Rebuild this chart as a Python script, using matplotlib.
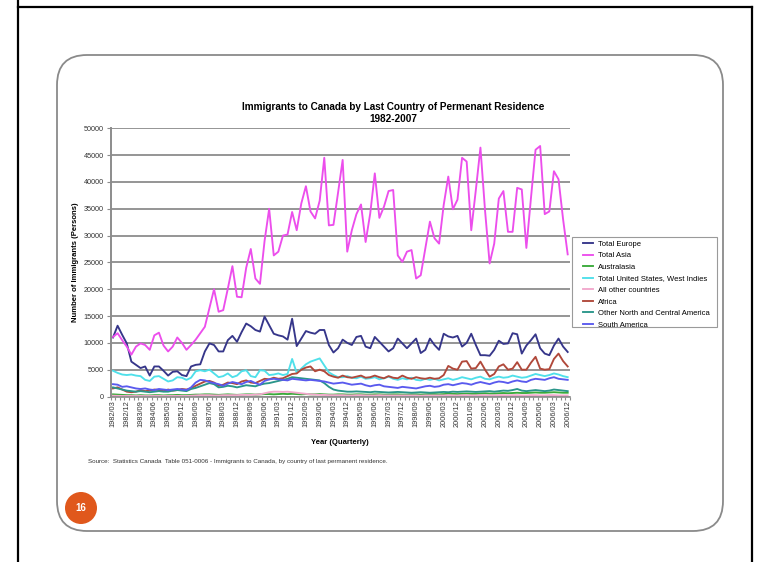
import matplotlib
matplotlib.use('Agg')
import matplotlib.pyplot as plt
from matplotlib.patches import FancyBboxPatch, Circle, Rectangle
import numpy as np

plt.rcParams['font.family'] = ['Liberation Sans', 'DejaVu Sans']

# quarterly categories 1982/03 .. 2006/12
quarters = [f"{y}/{m:02d}" for y in range(1982, 2007) for m in (3, 6, 9, 12)]

europe = [11000, 13200, 11500, 9900, 6500, 5900, 5300, 5600, 3900, 5600,
          5600, 4800, 3900, 4600, 4700, 4000, 3800, 5600, 5900, 6000,
          8400, 9900, 9600, 8400, 8400, 10500, 11300, 10200, 12000, 13600,
          13100, 12400, 12100, 14900, 13300, 11700, 11400, 11200, 10600, 14500,
          9400, 10800, 12200, 11900, 11700, 12400, 12400, 9600, 8200, 9000,
          10600, 10000, 9600, 11100, 11300, 9300, 9000, 11100, 10200, 9300,
          8400, 9000, 10800, 9900, 9000, 9900, 10800, 8100, 8700, 10800,
          9600, 8700, 11700, 11200, 11000, 11300, 9300, 10000, 11700, 9600,
          7700, 7700, 7600, 8700, 10400, 9800, 9900, 11800, 11600, 8000,
          9500, 10500, 11600, 9000, 8000, 7700, 9500, 10800, 9300, 8300]

asia = [11100, 11800, 10500, 9300, 7800, 9300, 9900, 9600, 8700, 11400,
        11900, 9500, 8400, 9300, 11000, 10000, 8700, 9600, 10600, 11800,
        13000, 16500, 20000, 15800, 16100, 20100, 24300, 18600, 18500, 24000,
        27500, 22000, 21000, 29000, 35000, 26300, 27000, 30000, 30200, 34400,
        31000, 36000, 39200, 34500, 33200, 36500, 44500, 31900, 32000, 38000,
        44100, 27000, 31000, 34000, 35800, 28800, 34100, 41600, 33300, 35400,
        38300, 38500, 26300, 25100, 27000, 27300, 22000, 22600, 27600, 32600,
        29500, 28500, 35700, 41000, 34900, 36700, 44500, 43800, 31000, 38500,
        46400, 34700, 24800, 28500, 36900, 38300, 30700, 30700, 38900, 38600,
        27700, 37000, 46000, 46700, 34000, 34500, 42000, 40500, 33000, 26500]

australasia = [400, 350, 300, 250, 250, 200, 250, 200, 200, 250,
               250, 200, 250, 250, 300, 250, 250, 300, 350, 350,
               400, 400, 350, 300, 350, 400, 350, 300, 350, 400,
               400, 350, 400, 450, 450, 400, 450, 500, 450, 500,
               450, 400, 450, 400, 400, 450, 400, 350, 350, 400,
               400, 350, 350, 400, 400, 350, 350, 400, 400, 350,
               350, 400, 400, 350, 350, 400, 400, 350, 400, 450,
               450, 400, 450, 500, 500, 450, 500, 550, 500, 500,
               550, 600, 550, 550, 600, 650, 600, 650, 700, 650,
               650, 700, 750, 700, 700, 750, 800, 750, 700, 700]

usa_wi = [4800, 4400, 4100, 4000, 4100, 3900, 3800, 3100, 2900, 3700,
          3800, 3300, 2800, 3000, 3600, 3500, 3100, 3500, 4700, 4900,
          4700, 5000, 4300, 3600, 3800, 4300, 3600, 3900, 4700, 4900,
          3800, 3600, 4900, 4800, 4000, 4100, 4300, 4000, 4200, 7000,
          4400, 5200, 6000, 6500, 6800, 7100, 5800, 4500, 4000, 3600,
          3600, 3800, 3500, 3400, 3700, 3300, 3400, 3600, 3200, 3400,
          3700, 3300, 3100, 3400, 3200, 3500, 3100, 3000, 3300, 3100,
          3300, 3000, 3200, 3400, 3100, 3300, 3600, 3400, 3200, 3500,
          3700, 3300, 3200, 3500, 3700, 3500, 3600, 3900, 3700, 3500,
          3600, 3900, 4200, 4000, 3800, 4000, 4300, 4100, 3800, 3600]

all_other = [150, 120, 100, 100, 100, 90, 100, 90, 90, 100,
             100, 90, 100, 100, 110, 100, 100, 150, 200, 250,
             250, 250, 200, 200, 250, 250, 250, 250, 300, 300,
             300, 350, 400, 600, 800, 900, 900, 850, 900, 800,
             700, 600, 500, 400, 350, 300, 300, 250, 250, 250,
             250, 200, 200, 250, 250, 200, 200, 200, 250, 200,
             200, 200, 200, 200, 200, 200, 200, 150, 200, 200,
             200, 200, 200, 250, 200, 200, 250, 250, 200, 200,
             250, 250, 200, 200, 250, 250, 200, 250, 250, 200,
             200, 250, 250, 200, 200, 250, 250, 200, 200, 200]

africa = [1500, 1700, 1300, 900, 800, 900, 1200, 1000, 1100, 1300,
          1200, 1000, 1300, 1100, 1200, 1400, 1300, 1500, 2000, 2400,
          2800, 2900, 2600, 2000, 2200, 2600, 2500, 2300, 2800, 3000,
          2600, 2500, 2900, 3300, 3200, 3500, 3300, 3400, 3800, 4200,
          4300, 5000, 5400, 5600, 4700, 5000, 4700, 4000, 3700, 3500,
          3900, 3600, 3500, 3700, 3900, 3500, 3600, 3900, 3600, 3400,
          3800, 3500, 3400, 3900, 3500, 3300, 3600, 3400, 3300, 3500,
          3300, 3400, 4000, 5700, 5200, 5000, 6500, 6600, 5200, 5300,
          6500, 5000, 3700, 4200, 5600, 6000, 5000, 5200, 6400, 5000,
          5000, 6300, 7400, 5200, 5000, 5100, 7000, 8000, 6600, 5600]

other_nca = [1700, 1500, 1300, 1100, 1000, 900, 1000, 900, 800, 900,
             1000, 900, 900, 1100, 1200, 1100, 1000, 1400, 1600, 1900,
             2200, 2500, 2300, 1700, 1800, 2000, 1900, 1700, 1900, 2100,
             2000, 1900, 2200, 2400, 2500, 2700, 2900, 3100, 3300, 3600,
             3500, 3400, 3300, 3200, 3100, 3000, 2500, 1800, 1300, 1100,
             1000, 900, 900, 950, 900, 850, 800, 900, 850, 800,
             750, 800, 850, 800, 750, 700, 750, 800, 750, 700,
             750, 800, 850, 800, 900, 850, 900, 950, 900, 850,
             900, 950, 1000, 900, 1000, 1100, 1050, 1200, 1400, 1100,
             1000, 1100, 1200, 1100, 1000, 1100, 1300, 1200, 1100, 1000]

south_america = [2300, 2200, 1800, 1900, 1700, 1500, 1400, 1500, 1300, 1200,
                 1400, 1300, 1200, 1300, 1400, 1300, 1200, 1700, 2600, 3100,
                 3000, 2700, 2500, 2300, 2000, 2400, 2700, 2500, 2300, 2700,
                 2900, 2500, 2200, 2900, 3200, 3300, 3200, 3100, 3000, 3300,
                 3200, 3100, 3000, 3100, 3000, 2900, 2800, 2600, 2400, 2500,
                 2600, 2400, 2200, 2300, 2400, 2100, 1900, 2100, 2200, 1900,
                 1800, 1700, 1600, 1800, 1700, 1600, 1500, 1700, 1900, 2000,
                 1800, 1900, 2200, 2300, 2100, 2300, 2500, 2400, 2200, 2500,
                 2700, 2500, 2300, 2600, 2800, 2700, 2500, 2800, 3000, 2800,
                 2700, 3100, 3300, 3200, 3100, 3400, 3600, 3300, 3200, 3100]

series = [
    ('Total Europe', europe, '#36368a'),
    ('Total Asia', asia, '#ec4eec'),
    ('Australasia', australasia, '#3aaa3a'),
    ('Total United States, West Indies', usa_wi, '#4fe0ea'),
    ('All other countries', all_other, '#f2a8cc'),
    ('Africa', africa, '#b0483a'),
    ('Other North and Central America', other_nca, '#2a968a'),
    ('South America', south_america, '#5a5aee'),
]

W, H = 758, 562
fig = plt.figure(figsize=(W / 100, H / 100), dpi=100)

# slide background: black frame, rounded box, page number badge
bg = fig.add_axes([0, 0, 1, 1], zorder=0)
bg.set_xlim(0, W)
bg.set_ylim(H, 0)
bg.axis('off')
bg.plot([18, 18], [0, H], color='black', lw=1.6)
bg.plot([18, 752], [7, 7], color='black', lw=1.6)
bg.plot([752, 752], [7, H], color='black', lw=1.6)
bg.add_patch(FancyBboxPatch((57, 55), 666, 476, boxstyle='round,pad=0,rounding_size=30',
                            fc='white', ec='#8a8a8a', lw=1.3))
bg.add_patch(Circle((81, 508), 16, fc='#e0581c', ec='none'))
bg.text(81, 508, '16', color='white', fontsize=7, fontweight='bold', ha='center', va='center')

bg.text(393, 107, 'Immigrants to Canada by Last Country of Permenant Residence',
        fontsize=7.2, fontweight='bold', ha='center', va='center')
bg.text(393, 119.5, '1982-2007', fontsize=7.2, fontweight='bold', ha='center', va='center')
bg.text(88, 462, 'Source:  Statistics Canada  Table 051-0006 - Immigrants to Canada, '
        'by country of last permanent residence.', fontsize=4.5, ha='left', va='center',
        color='#333333')

# legend frame
bg.add_patch(Rectangle((572, 237), 145, 90, fc='white', ec='#9a9a9a', lw=0.8))

# chart
x0, x1, ytop, ybot = 110.7, 570, 128.3, 396.5
ax = fig.add_axes([x0 / W, 1 - ybot / H, (x1 - x0) / W, (ybot - ytop) / H], zorder=1)
ax.patch.set_alpha(0)

x = np.arange(len(quarters))
for name, vals, col in series:
    ax.plot(x, vals, color=col, lw=1.35, label=name)

ax.set_xlim(-0.5, len(quarters) - 0.5)
ax.set_ylim(0, 50000)
ax.set_yticks(range(0, 50001, 5000))
ax.yaxis.grid(True, color='#8c8c8c', lw=1.3)
ax.set_axisbelow(True)
for s in ('top', 'right'):
    ax.spines[s].set_visible(False)
ax.spines['left'].set_color('#8c8c8c')
ax.spines['left'].set_linewidth(1.4)
ax.spines['bottom'].set_color('#8c8c8c')
ax.spines['bottom'].set_linewidth(1.2)

ax.set_xticks(x[::3])
ax.set_xticklabels(quarters[::3], rotation=90, fontsize=5.3, color='#333333')
ax.set_xticks(np.arange(-0.5, len(quarters), 1), minor=True)
ax.tick_params(axis='x', which='major', length=0, pad=3)
ax.tick_params(axis='x', which='minor', length=2.5, color='#8c8c8c', width=0.8)
ax.tick_params(axis='y', labelsize=5.2, labelcolor='#333333', length=3, color='#8c8c8c', pad=2)

ax.set_ylabel('Number of Immigrants (Persons)', fontsize=5.5, fontweight='bold', labelpad=3)
ax.set_xlabel('Year (Quarterly)', fontsize=5.5, fontweight='bold', labelpad=8)

leg = ax.legend(loc='upper left', bbox_to_anchor=(581 / W, 1 - 238.5 / H),
                bbox_transform=fig.transFigure, fontsize=5.5, frameon=False,
                borderpad=0.25, labelspacing=0.55, handlelength=1.3,
                handletextpad=0.7, borderaxespad=0)

fig.savefig('out.png', dpi=100)
